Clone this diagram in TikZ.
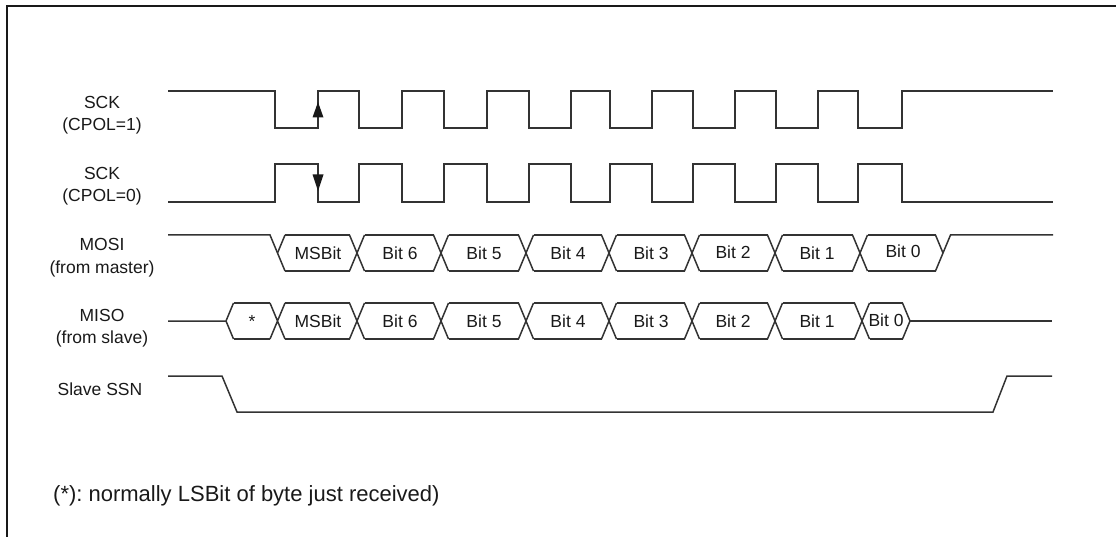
\documentclass[tikz,border=0pt]{standalone}
\usepackage{fontspec}
\setmainfont{Liberation Sans}
\frenchspacing
\begin{document}
\begin{tikzpicture}[x=1pt,y=-1pt,
  wave/.style={line width=1.5pt, draw=black!80, line join=miter},
  tip/.style={fill=black!90},
  lab/.style={anchor=base, font=\fontsize{17.5}{21}\selectfont, text=black!90, inner sep=0pt},
  note/.style={anchor=base west, font=\fontsize{22}{26}\selectfont\frenchspacing, text=black!90, inner sep=0pt}]
\path[use as bounding box] (0,0) rectangle (1116,537);
% frame
\draw[line width=1.4pt, black!90] (7,537) -- (7,6) -- (1116,6);
% labels
\node[lab] (sck1a) at (102,109) {SCK};
\node[lab] (sck1b) at (102,131) {(CPOL=1)};
\node[lab] (sck0a) at (102,180) {SCK};
\node[lab] (sck0b) at (102,202) {(CPOL=0)};
\node[lab] (mosia) at (102,251) {MOSI};
\node[lab] (mosib) at (102,273) {(from master)};
\node[lab] (misoa) at (102,321) {MISO};
\node[lab] (misob) at (102,343) {(from slave)};
\node[lab] (ssn) at (100,395) {Slave SSN};
\node[note] (fn) at (53,501) {(*): normally LSBit of byte just received)};
% SCK CPOL=1
\draw[wave] (168,91) -| (275,128) -| (318,91) -| (359,128) -| (402,91) -| (444,128) -| (487,91) -| (529,128) -| (571,91) -| (610,128) -| (652,91) -| (693,128) -| (735,91) -| (776,128) -| (818,91) -| (858,128) -| (902,91) -- (1053,91);
\fill[tip] (318,102) -- (312.5,117.5) -- (323.5,117.5) -- cycle;
% SCK CPOL=0
\draw[wave] (168,202) -| (275,164) -| (318,202) -| (359,164) -| (402,202) -| (444,164) -| (487,202) -| (529,164) -| (571,202) -| (610,164) -| (652,202) -| (693,164) -| (735,202) -| (776,164) -| (818,202) -| (858,164) -| (902,202) -- (1053,202);
\fill[tip] (318,191) -- (312.5,174.5) -- (323.5,174.5) -- cycle;
% MOSI bus
\draw[wave] (168,235) -- (270,235) -- (285,271);
\draw[wave] (277.5,253) -- (285,235);
\foreach \c in {357,441,526,609,692,775,860}
  \draw[wave] (\c-7.5,235) -- (\c+7.5,271) (\c-7.5,271) -- (\c+7.5,235);
\foreach \a/\b in {277.5/357,357/441,441/526,526/609,609/692,692/775,775/860,860/943}
  \draw[wave] (\a+7.5,235) -- (\b-7.5,235) (\a+7.5,271) -- (\b-7.5,271);
\draw[wave] (935.5,235) -- (943,253);
\draw[wave] (935.5,271) -- (950.5,235) -- (1053,235);
\node[lab] (mo7) at (318,259.5) {MSBit};
\node[lab] (mo6) at (400,259.5) {Bit 6};
\node[lab] (mo5) at (484,259.5) {Bit 5};
\node[lab] (mo4) at (568,259.5) {Bit 4};
\node[lab] (mo3) at (651,259.5) {Bit 3};
\node[lab] (mo2) at (733,258.5) {Bit 2};
\node[lab] (mo1) at (817,259.5) {Bit 1};
\node[lab] (mo0) at (903,257.5) {Bit 0};
% MISO bus
\draw[wave] (168,321) -- (226,321) -- (233.5,303);
\draw[wave] (226,321) -- (233.5,339);
\foreach \c in {277.5,357,441,526,609,692,775,862}
  \draw[wave] (\c-7.5,303) -- (\c+7.5,339) (\c-7.5,339) -- (\c+7.5,303);
\foreach \a/\b in {226/277.5,277.5/357,357/441,441/526,526/609,609/692,692/775,775/862,862/910}
  \draw[wave] (\a+7.5,303) -- (\b-7.5,303) (\a+7.5,339) -- (\b-7.5,339);
\draw[wave] (902.5,303) -- (910,321) -- (902.5,339);
\draw[wave] (910,321) -- (1052,321);
\node[lab] (mis) at (252,327.5) {*};
\node[lab] (mi7) at (318,327.5) {MSBit};
\node[lab] (mi6) at (400,327.5) {Bit 6};
\node[lab] (mi5) at (484,327.5) {Bit 5};
\node[lab] (mi4) at (568,327.5) {Bit 4};
\node[lab] (mi3) at (651,327.5) {Bit 3};
\node[lab] (mi2) at (733,327.5) {Bit 2};
\node[lab] (mi1) at (817,327.5) {Bit 1};
\node[lab] (mi0) at (886,326.5) {Bit 0};
% Slave SSN
\draw[wave] (168,376) -- (222,376) -- (237,412) -- (993,412) -- (1007,376) -- (1052,376);
\end{tikzpicture}
\end{document}
